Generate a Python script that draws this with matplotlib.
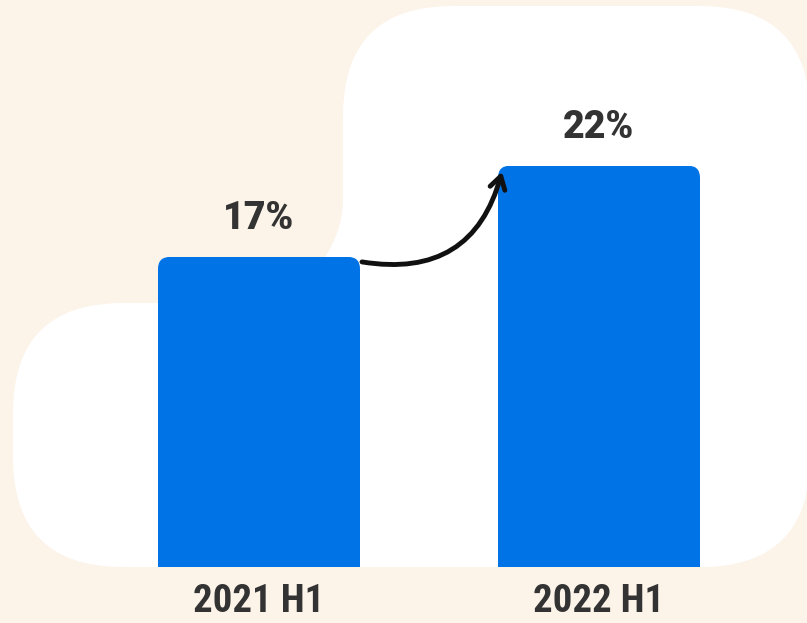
import matplotlib
matplotlib.use("Agg")
import matplotlib.pyplot as plt
from matplotlib.patches import FancyBboxPatch, Polygon
import numpy as np

# 数据
periods = ["2021 H1", "2022 H1"]
shares = [17, 22]
share_labels = ["17%", "22%"]

bg_color = "#FCF3E9"
bar_color = "#0073E6"
text_color = "#333333"

W, H = 807, 623
fig = plt.figure(figsize=(W / 100, H / 100), dpi=100)
fig.patch.set_facecolor(bg_color)

# 背景装饰层，按像素坐标
bg = fig.add_axes([0, 0, 1, 1])
bg.set_xlim(0, W)
bg.set_ylim(H, 0)
bg.axis("off")

r = 110
bg.add_patch(FancyBboxPatch((13, 303), 797, 264, boxstyle=f"round,pad=0,rounding_size={r}",
                            fc="white", ec="none"))
bg.add_patch(FancyBboxPatch((343, 6), 467, 561, boxstyle=f"round,pad=0,rounding_size={r}",
                            fc="white", ec="none"))
# 两块之间的内凹过渡
rf = 105
t = np.linspace(np.pi / 2, 0, 40)
arc = np.column_stack([343 - rf + rf * np.cos(t), 303 - rf + rf * np.sin(t)])
bg.add_patch(Polygon(np.vstack([[343, 303], arc]), closed=True, fc="white", ec="none"))

# 柱状图层
ax = fig.add_axes([0, 0, 1, 1])
ax.patch.set_alpha(0)
px_x = 340.0   # 每个类别间距对应的像素
px_y = 18.24   # 每个百分点对应的像素
ax.set_xlim(-259 / px_x, (W - 259) / px_x)
ax.set_ylim(-56 / px_y, (H - 56) / px_y)
ax.axis("off")

x = np.arange(len(periods))
width = 202 / px_x
bars = ax.bar(x, shares, width=width, color=bar_color, zorder=2)

# 顶部圆角：用圆角框裁剪
rad = 12 / px_x
aspect = px_x / px_y
for b in bars:
    x0, y0 = b.get_x(), b.get_y()
    clip = FancyBboxPatch((x0, y0 - 2), b.get_width(), b.get_height() + 2,
                          boxstyle=f"round,pad=0,rounding_size={rad}",
                          mutation_aspect=aspect, transform=ax.transData)
    b.set_clip_path(clip)

for xi, v, lab in zip(x, shares, share_labels):
    ax.text(xi, v + 38 / px_y, lab, ha="center", va="center", fontsize=27,
            fontweight="black", family=["Roboto", "DejaVu Sans"], color=text_color)

for xi, lab in zip(x, periods):
    ax.text(xi, -35 / px_y, lab, ha="center", va="center", fontsize=28,
            fontweight="black", family=["Roboto Condensed", "Roboto", "DejaVu Sans"],
            color=text_color)

# 增长箭头
ax.annotate("", xy=(x[1] - width / 2 + 4 / px_x, shares[1] - 6 / px_y),
            xytext=(x[0] + width / 2 + 2 / px_x, shares[0] - 5 / px_y),
            arrowprops=dict(arrowstyle="->,head_length=0.9,head_width=0.55", color="#111111",
                            lw=3.5, connectionstyle="arc3,rad=0.45",
                            shrinkA=0, shrinkB=0), zorder=3)

fig.savefig("out.png", dpi=100, facecolor=bg_color)
